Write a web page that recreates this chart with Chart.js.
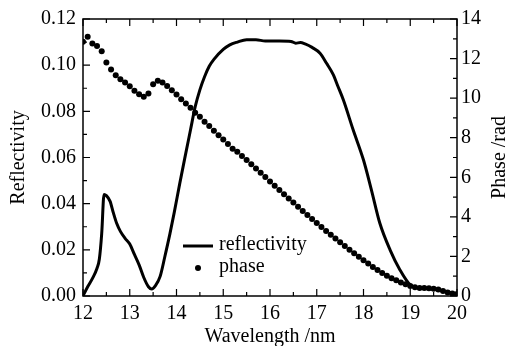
<!DOCTYPE html>
<html>
<head>
<meta charset="utf-8">
<script src="https://cdn.jsdelivr.net/npm/chart.js@4.4.1/dist/chart.umd.min.js"></script>
<style>
  html, body { margin: 0; padding: 0; background: #fff; }
  #wrap { width: 510px; height: 346px; }
</style>
</head>
<body>
<div id="wrap"><canvas id="chart" width="510" height="346"></canvas></div>
<script>
// reflectivity curve (wavelength nm -> reflectivity)
const refWavelength = [
  12.0, 12.1, 12.2, 12.3, 12.35, 12.4, 12.45, 12.5, 12.58, 12.65, 12.72, 12.8, 12.9,
  13.0, 13.1, 13.2, 13.3, 13.4, 13.47, 13.55, 13.65, 13.75, 13.86, 13.95,
  14.07, 14.2, 14.3, 14.4, 14.5, 14.6, 14.7, 14.8, 15.0, 15.14, 15.3, 15.5, 15.7, 15.9,
  16.2, 16.45, 16.55, 16.65, 16.75, 16.9, 17.07, 17.21, 17.35, 17.45, 17.57, 17.78,
  18.0, 18.17, 18.35, 18.57, 18.78, 19.0, 19.2, 19.5, 19.7, 19.9, 20.0
];
const refValue = [
  0.0, 0.004, 0.0075, 0.012, 0.016, 0.027, 0.044, 0.0435, 0.041, 0.036, 0.0315, 0.028, 0.025,
  0.0225, 0.018, 0.0135, 0.008, 0.004, 0.003, 0.0045, 0.0085, 0.017, 0.027, 0.036,
  0.0488, 0.062, 0.072, 0.082, 0.0893, 0.095, 0.0995, 0.1025, 0.1068, 0.1088, 0.110, 0.111, 0.111, 0.1105,
  0.1105, 0.1103, 0.1095, 0.1098, 0.1092, 0.1077, 0.1052, 0.1008, 0.096, 0.091, 0.0849, 0.0719,
  0.0589, 0.0459, 0.0315, 0.0199, 0.0113, 0.0048, 0.0035, 0.003, 0.0022, 0.0013, 0.001
];

// phase samples, one every 0.1 nm from 12.0 to 20.0
const phaseWavelength = [
  12.0, 12.1, 12.2, 12.3, 12.4, 12.5, 12.6, 12.7, 12.8, 12.9,
  13.0, 13.1, 13.2, 13.3, 13.4, 13.5, 13.6, 13.7, 13.8, 13.9,
  14.0, 14.1, 14.2, 14.3, 14.4, 14.5, 14.6, 14.7, 14.8, 14.9,
  15.0, 15.1, 15.2, 15.3, 15.4, 15.5, 15.6, 15.7, 15.8, 15.9,
  16.0, 16.1, 16.2, 16.3, 16.4, 16.5, 16.6, 16.7, 16.8, 16.9,
  17.0, 17.1, 17.2, 17.3, 17.4, 17.5, 17.6, 17.7, 17.8, 17.9,
  18.0, 18.1, 18.2, 18.3, 18.4, 18.5, 18.6, 18.7, 18.8, 18.9,
  19.0, 19.1, 19.2, 19.3, 19.4, 19.5, 19.6, 19.7, 19.8, 19.9, 20.0
];
const phaseValue = [
  12.85, 13.1, 12.76, 12.64, 12.37, 11.8, 11.45, 11.16, 10.96, 10.79,
  10.6, 10.37, 10.2, 10.07, 10.24, 10.7, 10.88, 10.79, 10.62, 10.4,
  10.19, 9.95, 9.73, 9.51, 9.26, 9.06, 8.81, 8.59, 8.35, 8.13,
  7.91, 7.68, 7.44, 7.29, 7.07, 6.87, 6.66, 6.45, 6.23, 6.01,
  5.79, 5.57, 5.36, 5.14, 4.93, 4.72, 4.51, 4.30, 4.09, 3.89,
  3.69, 3.49, 3.29, 3.10, 2.91, 2.72, 2.53, 2.34, 2.16, 1.98,
  1.81, 1.64, 1.47, 1.31, 1.16, 1.02, 0.90, 0.79, 0.68, 0.59,
  0.50, 0.44, 0.41, 0.40, 0.39, 0.37, 0.33, 0.25, 0.18, 0.13, 0.10
];

const xTitle = 'Wavelength /nm';
const yTitle = 'Reflectivity';
const y1Title = 'Phase /rad';

const FONT = "'Liberation Serif', 'Times New Roman', serif";

// ticks pointing inward + frame + legend + right title
const framePlugin = {
  id: 'frame',
  afterDatasetsDraw(chart) {
    const { ctx, chartArea: a, scales } = chart;
    ctx.save();
    ctx.strokeStyle = '#000';
    ctx.lineWidth = 1.5;
    ctx.strokeRect(a.left, a.top, a.right - a.left, a.bottom - a.top);

    const majorLen = 7, minorLen = 4;
    const drawTicks = (scale, fn) => {
      const vals = scale.ticks.map(t => t.value);
      vals.forEach((v, i) => {
        fn(scale.getPixelForValue(v), majorLen);
        if (i < vals.length - 1) fn(scale.getPixelForValue((v + vals[i + 1]) / 2), minorLen);
      });
    };
    ctx.lineWidth = 1.2;
    ctx.beginPath();
    drawTicks(scales.x, (p, len) => {
      ctx.moveTo(p, a.bottom); ctx.lineTo(p, a.bottom - len);
      ctx.moveTo(p, a.top); ctx.lineTo(p, a.top + len);
    });
    drawTicks(scales.y, (p, len) => {
      ctx.moveTo(a.left, p); ctx.lineTo(a.left + len, p);
    });
    drawTicks(scales.y1, (p, len) => {
      ctx.moveTo(a.right, p); ctx.lineTo(a.right - len, p);
    });
    ctx.stroke();
    ctx.restore();
  },
  afterDraw(chart) {
    const { ctx, chartArea: a } = chart;
    const ds = chart.data.datasets;
    ctx.save();
    ctx.fillStyle = '#000';
    ctx.strokeStyle = '#000';
    ctx.font = '20px ' + FONT;
    ctx.textBaseline = 'middle';
    // legend
    ctx.lineWidth = 3;
    ctx.beginPath();
    ctx.moveTo(183, 246); ctx.lineTo(213, 246);
    ctx.stroke();
    ctx.fillText(ds[0].label, 219, 245);
    ctx.beginPath();
    ctx.arc(198, 268, 3, 0, Math.PI * 2);
    ctx.fill();
    ctx.fillText(ds[1].label, 219, 267);
    // right axis title, reading bottom to top
    ctx.translate(500, (a.top + a.bottom) / 2);
    ctx.rotate(-Math.PI / 2);
    ctx.textAlign = 'center';
    ctx.fillText(y1Title, 0, 0);
    ctx.restore();
  }
};

new Chart(document.getElementById('chart'), {
  type: 'scatter',
  data: {
    datasets: [
      {
        label: 'reflectivity',
        data: refWavelength.map((w, i) => ({ x: w, y: refValue[i] })),
        showLine: true,
        borderColor: '#000',
        borderWidth: 3,
        pointRadius: 0,
        cubicInterpolationMode: 'monotone',
        yAxisID: 'y'
      },
      {
        label: 'phase',
        data: phaseWavelength.map((w, i) => ({ x: w, y: phaseValue[i] })),
        showLine: false,
        backgroundColor: '#000',
        borderColor: '#000',
        pointRadius: 3,
        pointBorderWidth: 0,
        yAxisID: 'y1'
      }
    ]
  },
  options: {
    responsive: false,
    animation: false,
    layout: { padding: { top: 19, left: 0, right: 0, bottom: 0 } },
    plugins: {
      legend: { display: false },
      tooltip: { enabled: false }
    },
    scales: {
      x: {
        type: 'linear',
        min: 12, max: 20,
        grid: { display: false, drawTicks: false },
        border: { display: false },
        ticks: { stepSize: 1, color: '#000', padding: 6, font: { family: FONT, size: 20 } },
        title: { display: true, text: xTitle, color: '#000', padding: { top: 0, bottom: -3 }, font: { family: FONT, size: 20 } },
        afterFit(s) { s.height = 50; }
      },
      y: {
        position: 'left',
        min: 0, max: 0.12,
        grid: { display: false, drawTicks: false },
        border: { display: false },
        ticks: {
          stepSize: 0.02, color: '#000', padding: 7,
          font: { family: FONT, size: 20 },
          callback: v => v.toFixed(2)
        },
        title: { display: true, text: yTitle, color: '#000', padding: { top: 7, bottom: 0 }, font: { family: FONT, size: 20 } },
        afterFit(s) { s.width = 83; }
      },
      y1: {
        position: 'right',
        min: 0, max: 14,
        grid: { display: false, drawTicks: false },
        border: { display: false },
        ticks: { stepSize: 2, color: '#000', padding: 4, font: { family: FONT, size: 20 } },
        afterFit(s) { s.width = 53; }
      }
    }
  },
  plugins: [framePlugin]
});
</script>
</body>
</html>
